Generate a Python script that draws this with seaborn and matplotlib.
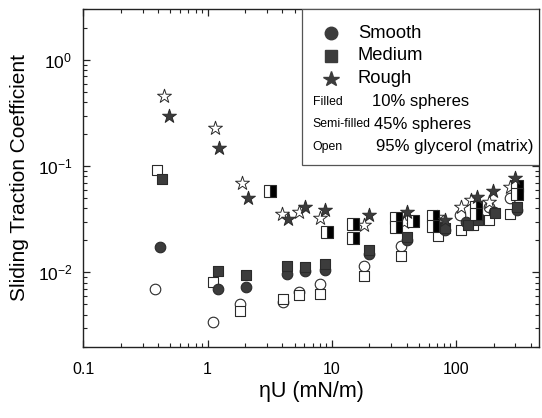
import matplotlib
matplotlib.use('Agg')
import matplotlib.pyplot as plt
import matplotlib.ticker as mticker
from matplotlib.patches import Rectangle
from matplotlib.lines import Line2D
import seaborn as sns

# Smooth (circles)
smooth_filled_x = [0.415, 1.20, 2.02, 4.38, 6.04, 8.75, 20.0, 40.0, 82, 120, 150, 200, 311]
smooth_filled_y = [0.0173, 0.0070, 0.0073, 0.0096, 0.0104, 0.0105, 0.0150, 0.0200, 0.0249, 0.030, 0.0334, 0.037, 0.0385]
smooth_open_x = [0.379, 1.10, 1.83, 4.02, 5.46, 8.0, 18.2, 36, 70, 108, 183, 272]
smooth_open_y = [0.00695, 0.0034, 0.0050, 0.0053, 0.0066, 0.0078, 0.0114, 0.0177, 0.0265, 0.0345, 0.0413, 0.050]

# Medium (squares)
medium_filled_x = [0.429, 1.22, 2.02, 4.38, 6.04, 8.75, 20, 40, 82, 125, 150, 205, 311]
medium_filled_y = [0.075, 0.0103, 0.0095, 0.0115, 0.0112, 0.0119, 0.0162, 0.0215, 0.026, 0.028, 0.031, 0.036, 0.041]
medium_open_x = [0.391, 1.11, 1.83, 4.02, 5.46, 8.0, 18.2, 36, 72, 109, 136, 183, 272]
medium_open_y = [0.093, 0.0081, 0.0043, 0.0056, 0.0061, 0.0063, 0.0092, 0.0143, 0.022, 0.0249, 0.0277, 0.0314, 0.0352]
medium_semi_x = [3.18, 9.14, 14.9, 14.9, 32.8, 32.8, 44.8, 65.6, 65.6, 144, 144, 307, 307]
medium_semi_y = [0.0585, 0.0242, 0.0284, 0.0211, 0.0325, 0.0267, 0.0303, 0.034, 0.0272, 0.0413, 0.0358, 0.065, 0.055]

# Rough (stars)
rough_filled_x = [0.485, 1.24, 2.10, 4.46, 6.07, 8.8, 20, 40, 81.5, 148, 199, 298]
rough_filled_y = [0.30, 0.147, 0.050, 0.032, 0.0413, 0.0385, 0.0345, 0.037, 0.0314, 0.0513, 0.0585, 0.0766]
rough_open_x = [0.448, 1.145, 1.89, 3.99, 5.46, 8.0, 18.2, 38, 70, 109, 133, 183, 272]
rough_open_y = [0.457, 0.227, 0.070, 0.0358, 0.0368, 0.0325, 0.028, 0.030, 0.033, 0.0413, 0.0478, 0.046, 0.0638]

sns.set_style('ticks')
plt.rcParams['font.family'] = ['Liberation Sans', 'DejaVu Sans']
plt.rcParams['mathtext.fontset'] = 'custom'
plt.rcParams['mathtext.rm'] = 'Liberation Sans'
plt.rcParams['mathtext.default'] = 'regular'
plt.rcParams['text.color'] = 'black'
plt.rcParams['axes.labelcolor'] = 'black'
plt.rcParams['xtick.color'] = 'black'
plt.rcParams['ytick.color'] = 'black'

dark = '#3c3c3c'
edge = '#2a2a2a'

fig = plt.figure(figsize=(5.42, 4.18), dpi=100)
ax = fig.add_axes([0.154, 0.1706, 0.8405, 0.8072])

# open markers first, filled on top
sns.scatterplot(x=smooth_open_x, y=smooth_open_y, marker='o', s=58, facecolor='white',
                edgecolor=edge, linewidth=0.8, ax=ax, zorder=3)
sns.scatterplot(x=medium_open_x, y=medium_open_y, marker='s', s=50, facecolor='white',
                edgecolor=edge, linewidth=0.8, ax=ax, zorder=3)
sns.scatterplot(x=rough_open_x, y=rough_open_y, marker='*', s=110, facecolor='white',
                edgecolor=edge, linewidth=0.7, ax=ax, zorder=3)
sns.scatterplot(x=smooth_filled_x, y=smooth_filled_y, marker='o', s=58, facecolor=dark,
                edgecolor=edge, linewidth=0.8, ax=ax, zorder=4)
sns.scatterplot(x=medium_filled_x, y=medium_filled_y, marker='s', s=50, facecolor=dark,
                edgecolor=edge, linewidth=0.8, ax=ax, zorder=4)
sns.lineplot(x=medium_semi_x, y=medium_semi_y, estimator=None, sort=False, linestyle='',
             marker='s', markersize=8, fillstyle='right', markerfacecolor='black',
             markerfacecoloralt='white', markeredgecolor=edge, markeredgewidth=0.8,
             color=edge, ax=ax, zorder=5)
sns.scatterplot(x=rough_filled_x, y=rough_filled_y, marker='*', s=110, facecolor=dark,
                edgecolor=edge, linewidth=0.7, ax=ax, zorder=6)

ax.set_xscale('log')
ax.set_yscale('log')
ax.set_xlim(0.1, 465)
ax.set_ylim(0.002, 3)

ax.xaxis.set_major_locator(mticker.FixedLocator([0.1, 1, 10, 100]))
ax.xaxis.set_major_formatter(mticker.FixedFormatter(['0.1', '1', '10', '100']))
ax.xaxis.set_minor_locator(mticker.LogLocator(base=10, subs=range(2, 10)))
ax.xaxis.set_minor_formatter(mticker.NullFormatter())
ax.yaxis.set_major_locator(mticker.FixedLocator([0.01, 0.1, 1]))
ax.yaxis.set_major_formatter(mticker.FixedFormatter(['$10^{-2}$', '$10^{-1}$', '$10^{0}$']))
ax.yaxis.set_minor_locator(mticker.LogLocator(base=10, subs=range(2, 10)))
ax.yaxis.set_minor_formatter(mticker.NullFormatter())

ax.tick_params(which='both', direction='in', top=True, right=True, color='#222222')
ax.tick_params(which='major', length=5, width=0.9)
ax.tick_params(which='minor', length=3, width=0.8)
ax.tick_params(axis='x', which='major', labelsize=11.5, pad=11)
ax.tick_params(axis='y', which='major', labelsize=12.5, pad=8)
for sp in ax.spines.values():
    sp.set_linewidth(1.0)
    sp.set_color('#222222')

ax.set_xlabel('ηU (mN/m)', fontsize=15.5, labelpad=3)
ax.set_ylabel('Sliding Traction Coefficient', fontsize=15, labelpad=6)

# legend box
ax.add_patch(Rectangle((0.48, 0.538), 0.52, 0.462, transform=ax.transAxes,
                       facecolor='white', edgecolor='#555555', linewidth=0.9, zorder=8))


def fx(px):
    return (px - 83.5) / 455.5


def fy(py):
    return (346.7 - py) / 337.4


surfaces = [('Smooth', 'o', 9, 33.3), ('Medium', 's', 8, 56), ('Rough', '*', 11.5, 79)]
for name, mk, ms, py in surfaces:
    ax.add_artist(Line2D([fx(330.7)], [fy(py)], marker=mk, linestyle='', color=dark,
                         markersize=ms, transform=ax.transAxes, zorder=10))
    ax.text(fx(358), fy(py), name, transform=ax.transAxes, fontsize=13.2, va='center', zorder=10)

small = [('Filled', 102), ('Semi-filled', 124.3), ('Open', 146.7)]
big = [('10% spheres', 371.7, 102), ('45% spheres', 374.3, 124.3), ('95% glycerol (matrix)', 376, 146.7)]
for t, py in small:
    ax.text(fx(312.7), fy(py), t, transform=ax.transAxes, fontsize=8.8, va='center', zorder=10)
for t, px, py in big:
    ax.text(fx(px), fy(py), t, transform=ax.transAxes, fontsize=12, va='center', zorder=10)

fig.savefig('out.png', dpi=100)
